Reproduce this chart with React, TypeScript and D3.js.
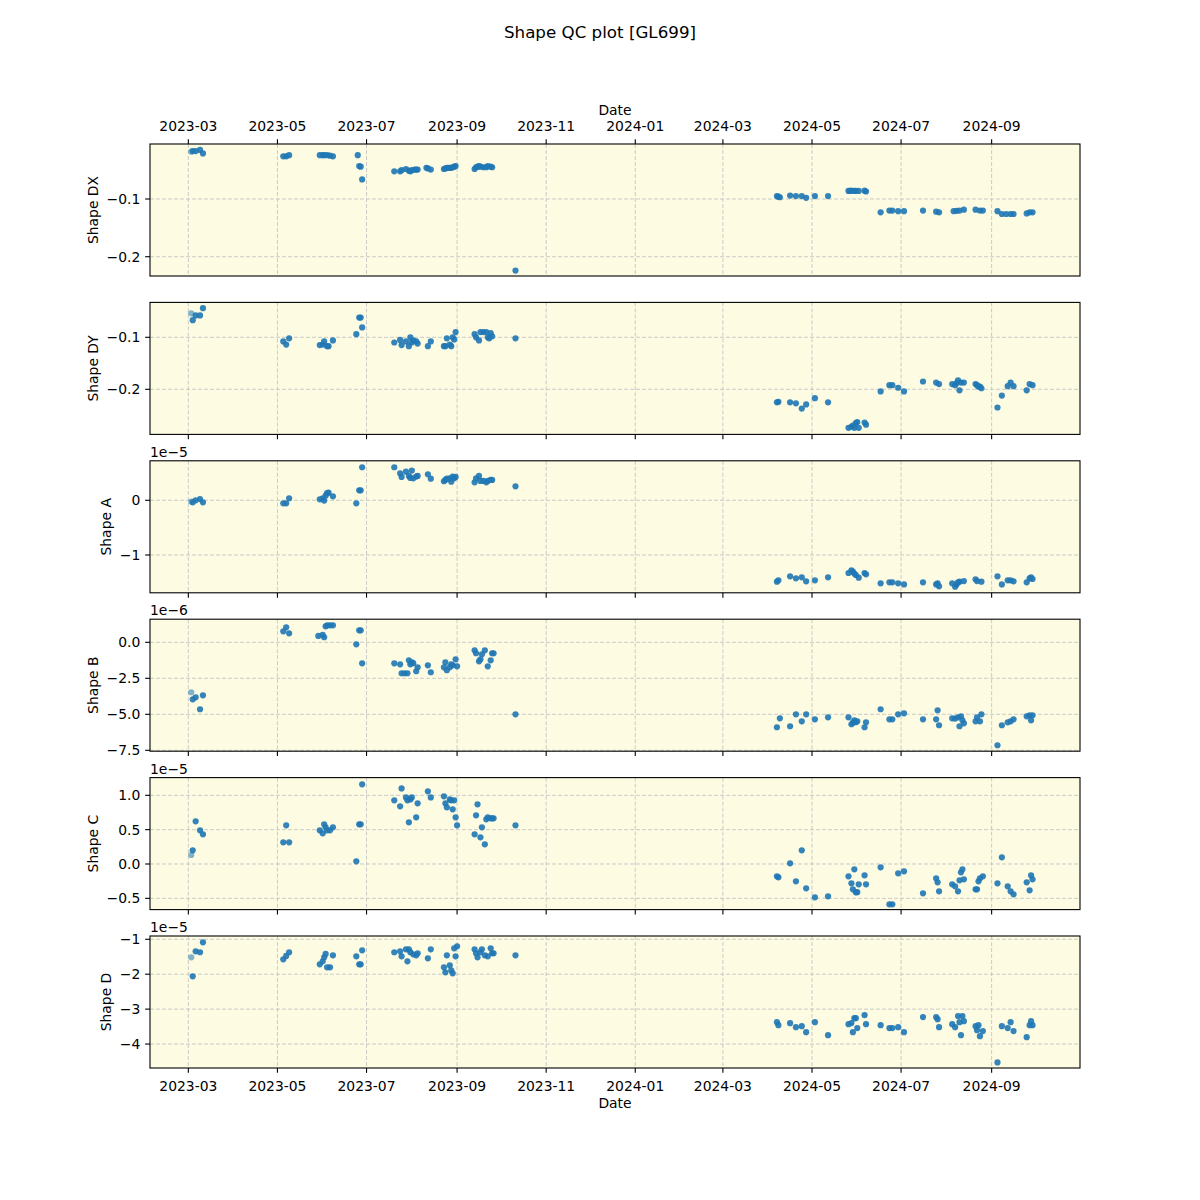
import React from 'react';
import * as d3 from 'd3';

type Pt = [string, number];

const chartTitle = 'Shape QC plot [GL699]';
const xTickDates = ['2023-03-01', '2023-05-01', '2023-07-01', '2023-09-01', '2023-11-01', '2024-01-01', '2024-03-01', '2024-05-01', '2024-07-01', '2024-09-01'];

const shapeDX: Pt[] = [
  ['2023-03-03', -0.018], ['2023-03-04', -0.017], ['2023-03-06', -0.017], ['2023-03-09', -0.015], ['2023-03-11', -0.021],
  ['2023-05-05', -0.026], ['2023-05-07', -0.026], ['2023-05-09', -0.024],
  ['2023-05-30', -0.024], ['2023-06-01', -0.024], ['2023-06-02', -0.024], ['2023-06-04', -0.024], ['2023-06-06', -0.025], ['2023-06-08', -0.026],
  ['2023-06-25', -0.024], ['2023-06-26', -0.043], ['2023-06-27', -0.044], ['2023-06-28', -0.066],
  ['2023-07-20', -0.052], ['2023-07-24', -0.052], ['2023-07-25', -0.050], ['2023-07-28', -0.048], ['2023-07-30', -0.051], ['2023-07-31', -0.052], ['2023-08-01', -0.050], ['2023-08-03', -0.049], ['2023-08-04', -0.049], ['2023-08-05', -0.049],
  ['2023-08-11', -0.046], ['2023-08-12', -0.047], ['2023-08-14', -0.049],
  ['2023-08-23', -0.048], ['2023-08-24', -0.047], ['2023-08-25', -0.046], ['2023-08-26', -0.046], ['2023-08-27', -0.046], ['2023-08-28', -0.046], ['2023-08-29', -0.045], ['2023-08-30', -0.044], ['2023-08-31', -0.043],
  ['2023-09-13', -0.048], ['2023-09-14', -0.045], ['2023-09-15', -0.044], ['2023-09-16', -0.043], ['2023-09-17', -0.044], ['2023-09-19', -0.045], ['2023-09-21', -0.045], ['2023-09-22', -0.043], ['2023-09-24', -0.044], ['2023-09-25', -0.045],
  ['2023-10-11', -0.224],
  ['2024-04-07', -0.095], ['2024-04-08', -0.096], ['2024-04-09', -0.097], ['2024-04-16', -0.094], ['2024-04-20', -0.095], ['2024-04-24', -0.095], ['2024-04-27', -0.098], ['2024-05-03', -0.095], ['2024-05-12', -0.095],
  ['2024-05-26', -0.086], ['2024-05-27', -0.086], ['2024-05-28', -0.0855], ['2024-05-30', -0.086], ['2024-05-31', -0.086], ['2024-06-02', -0.086], ['2024-06-06', -0.0855], ['2024-06-07', -0.087],
  ['2024-06-17', -0.123], ['2024-06-23', -0.120], ['2024-06-25', -0.120], ['2024-06-29', -0.121], ['2024-07-03', -0.121], ['2024-07-16', -0.120], ['2024-07-25', -0.122], ['2024-07-27', -0.123],
  ['2024-08-06', -0.121], ['2024-08-08', -0.1205], ['2024-08-10', -0.120], ['2024-08-13', -0.1185],
  ['2024-08-21', -0.1185], ['2024-08-24', -0.120], ['2024-08-26', -0.120],
  ['2024-09-05', -0.121], ['2024-09-08', -0.126], ['2024-09-11', -0.126], ['2024-09-14', -0.126], ['2024-09-16', -0.126],
  ['2024-09-25', -0.125], ['2024-09-27', -0.123], ['2024-09-29', -0.123],
];

const shapeDY: Pt[] = [
  ['2023-03-03', -0.054], ['2023-03-04', -0.067], ['2023-03-06', -0.058], ['2023-03-09', -0.058], ['2023-03-11', -0.044],
  ['2023-05-05', -0.108], ['2023-05-07', -0.114], ['2023-05-09', -0.102],
  ['2023-05-30', -0.115], ['2023-06-01', -0.114], ['2023-06-02', -0.108], ['2023-06-04', -0.117], ['2023-06-05', -0.117], ['2023-06-08', -0.106],
  ['2023-06-24', -0.094], ['2023-06-26', -0.062], ['2023-06-27', -0.062], ['2023-06-28', -0.081],
  ['2023-07-20', -0.110], ['2023-07-24', -0.105], ['2023-07-25', -0.115], ['2023-07-28', -0.108], ['2023-07-30', -0.117], ['2023-07-31', -0.100], ['2023-08-01', -0.110], ['2023-08-02', -0.106], ['2023-08-04', -0.108], ['2023-08-05', -0.112],
  ['2023-08-12', -0.117], ['2023-08-14', -0.108],
  ['2023-08-23', -0.117], ['2023-08-24', -0.117], ['2023-08-25', -0.102], ['2023-08-27', -0.114], ['2023-08-28', -0.117], ['2023-08-29', -0.100], ['2023-08-30', -0.104], ['2023-08-31', -0.090],
  ['2023-09-13', -0.094], ['2023-09-14', -0.100], ['2023-09-16', -0.106], ['2023-09-17', -0.090], ['2023-09-19', -0.090], ['2023-09-21', -0.090], ['2023-09-22', -0.100], ['2023-09-23', -0.102], ['2023-09-24', -0.092], ['2023-09-25', -0.098],
  ['2023-10-11', -0.102],
  ['2024-04-07', -0.225], ['2024-04-08', -0.224], ['2024-04-16', -0.225], ['2024-04-20', -0.227], ['2024-04-24', -0.237], ['2024-04-27', -0.229], ['2024-05-03', -0.217], ['2024-05-12', -0.225],
  ['2024-05-26', -0.274], ['2024-05-28', -0.272], ['2024-05-29', -0.270], ['2024-05-30', -0.274], ['2024-05-31', -0.265], ['2024-06-01', -0.263], ['2024-06-02', -0.274], ['2024-06-06', -0.264], ['2024-06-07', -0.268],
  ['2024-06-17', -0.204], ['2024-06-23', -0.192], ['2024-06-25', -0.192], ['2024-06-29', -0.197], ['2024-07-03', -0.204], ['2024-07-16', -0.185], ['2024-07-25', -0.187], ['2024-07-27', -0.190],
  ['2024-08-05', -0.190], ['2024-08-07', -0.192], ['2024-08-08', -0.188], ['2024-08-09', -0.183], ['2024-08-10', -0.202], ['2024-08-11', -0.187], ['2024-08-13', -0.187],
  ['2024-08-21', -0.190], ['2024-08-22', -0.192], ['2024-08-23', -0.195], ['2024-08-24', -0.195], ['2024-08-25', -0.198],
  ['2024-09-05', -0.235], ['2024-09-08', -0.212], ['2024-09-12', -0.194], ['2024-09-14', -0.187], ['2024-09-16', -0.194],
  ['2024-09-25', -0.202], ['2024-09-27', -0.190], ['2024-09-29', -0.192],
];

const shapeA: Pt[] = [
  ['2023-03-03', -0.024e-5], ['2023-03-04', -0.037e-5], ['2023-03-06', 0], ['2023-03-09', 0.024e-5], ['2023-03-11', -0.037e-5],
  ['2023-05-05', -0.055e-5], ['2023-05-07', -0.055e-5], ['2023-05-09', 0.037e-5],
  ['2023-05-30', 0.018e-5], ['2023-06-01', 0.037e-5], ['2023-06-02', -0.006e-5], ['2023-06-03', 0.085e-5], ['2023-06-04', 0.13e-5], ['2023-06-05', 0.14e-5], ['2023-06-08', 0.073e-5],
  ['2023-06-24', -0.055e-5], ['2023-06-26', 0.183e-5], ['2023-06-27', 0.183e-5], ['2023-06-28', 0.604e-5],
  ['2023-07-20', 0.604e-5], ['2023-07-24', 0.494e-5], ['2023-07-25', 0.427e-5], ['2023-07-28', 0.524e-5], ['2023-07-30', 0.445e-5], ['2023-07-31', 0.409e-5], ['2023-08-01', 0.543e-5], ['2023-08-02', 0.402e-5], ['2023-08-04', 0.433e-5], ['2023-08-05', 0.445e-5],
  ['2023-08-12', 0.476e-5], ['2023-08-14', 0.396e-5],
  ['2023-08-23', 0.348e-5], ['2023-08-24', 0.372e-5], ['2023-08-25', 0.396e-5], ['2023-08-27', 0.402e-5], ['2023-08-28', 0.341e-5], ['2023-08-29', 0.433e-5], ['2023-08-30', 0.402e-5], ['2023-08-31', 0.427e-5],
  ['2023-09-13', 0.329e-5], ['2023-09-14', 0.402e-5], ['2023-09-16', 0.445e-5], ['2023-09-17', 0.354e-5], ['2023-09-19', 0.354e-5], ['2023-09-21', 0.329e-5], ['2023-09-22', 0.354e-5], ['2023-09-24', 0.372e-5], ['2023-09-25', 0.372e-5],
  ['2023-10-11', 0.256e-5],
  ['2024-04-07', -1.488e-5], ['2024-04-08', -1.463e-5], ['2024-04-16', -1.39e-5], ['2024-04-20', -1.427e-5], ['2024-04-24', -1.409e-5], ['2024-04-27', -1.482e-5], ['2024-05-03', -1.463e-5], ['2024-05-12', -1.409e-5],
  ['2024-05-26', -1.329e-5], ['2024-05-28', -1.28e-5], ['2024-05-29', -1.305e-5], ['2024-05-30', -1.34e-5], ['2024-05-31', -1.366e-5], ['2024-06-02', -1.415e-5], ['2024-06-06', -1.329e-5], ['2024-06-07', -1.354e-5],
  ['2024-06-17', -1.518e-5], ['2024-06-23', -1.5e-5], ['2024-06-25', -1.5e-5], ['2024-06-29', -1.518e-5], ['2024-07-03', -1.537e-5],
  ['2024-07-16', -1.5e-5], ['2024-07-25', -1.537e-5], ['2024-07-26', -1.52e-5], ['2024-07-27', -1.573e-5],
  ['2024-08-05', -1.518e-5], ['2024-08-07', -1.58e-5], ['2024-08-08', -1.54e-5], ['2024-08-09', -1.5e-5], ['2024-08-10', -1.488e-5], ['2024-08-13', -1.476e-5],
  ['2024-08-21', -1.445e-5], ['2024-08-22', -1.476e-5], ['2024-08-25', -1.488e-5],
  ['2024-09-05', -1.39e-5], ['2024-09-08', -1.537e-5], ['2024-09-12', -1.463e-5], ['2024-09-14', -1.463e-5], ['2024-09-16', -1.482e-5],
  ['2024-09-25', -1.5e-5], ['2024-09-27', -1.427e-5], ['2024-09-28', -1.409e-5], ['2024-09-29', -1.439e-5],
];

const shapeB: Pt[] = [
  ['2023-03-03', -3.47e-6], ['2023-03-04', -3.96e-6], ['2023-03-06', -3.82e-6], ['2023-03-09', -4.65e-6], ['2023-03-11', -3.68e-6],
  ['2023-05-05', 0.76e-6], ['2023-05-07', 1.04e-6], ['2023-05-09', 0.625e-6],
  ['2023-05-29', 0.44e-6], ['2023-06-01', 0.51e-6], ['2023-06-02', 0.35e-6], ['2023-06-03', 1.11e-6], ['2023-06-04', 1.18e-6], ['2023-06-06', 1.18e-6], ['2023-06-08', 1.18e-6],
  ['2023-06-24', -0.14e-6], ['2023-06-26', 0.83e-6], ['2023-06-27', 0.83e-6], ['2023-06-28', -1.46e-6],
  ['2023-07-20', -1.46e-6], ['2023-07-24', -1.53e-6], ['2023-07-25', -2.15e-6], ['2023-07-27', -2.15e-6], ['2023-07-29', -2.15e-6], ['2023-07-30', -1.25e-6], ['2023-07-31', -1.53e-6], ['2023-08-01', -1.4e-6], ['2023-08-02', -1.45e-6], ['2023-08-04', -2.01e-6], ['2023-08-05', -1.74e-6],
  ['2023-08-12', -1.6e-6], ['2023-08-14', -2.08e-6],
  ['2023-08-23', -1.74e-6], ['2023-08-24', -1.39e-6], ['2023-08-25', -1.94e-6], ['2023-08-27', -1.74e-6], ['2023-08-28', -1.53e-6], ['2023-08-29', -1.6e-6], ['2023-08-31', -1.18e-6], ['2023-09-01', -1.67e-6],
  ['2023-09-13', -0.56e-6], ['2023-09-14', -0.76e-6], ['2023-09-16', -1.32e-6], ['2023-09-17', -1.18e-6], ['2023-09-18', -0.83e-6], ['2023-09-20', -0.56e-6], ['2023-09-22', -1.67e-6], ['2023-09-24', -1.25e-6], ['2023-09-25', -0.76e-6], ['2023-09-26', -0.76e-6],
  ['2023-10-11', -5.0e-6],
  ['2024-04-07', -5.9e-6], ['2024-04-09', -5.28e-6], ['2024-04-16', -5.83e-6], ['2024-04-20', -5.0e-6], ['2024-04-24', -5.49e-6], ['2024-04-27', -5.0e-6], ['2024-05-03', -5.35e-6], ['2024-05-12', -5.21e-6],
  ['2024-05-26', -5.21e-6], ['2024-05-28', -5.69e-6], ['2024-05-29', -5.58e-6], ['2024-05-30', -5.42e-6], ['2024-05-31', -5.55e-6], ['2024-06-01', -5.49e-6], ['2024-06-06', -5.9e-6], ['2024-06-07', -5.56e-6],
  ['2024-06-17', -4.65e-6], ['2024-06-23', -5.35e-6], ['2024-06-25', -5.35e-6], ['2024-06-29', -5.0e-6], ['2024-07-03', -4.93e-6],
  ['2024-07-16', -5.35e-6], ['2024-07-25', -5.35e-6], ['2024-07-26', -4.72e-6], ['2024-07-27', -5.76e-6],
  ['2024-08-05', -5.28e-6], ['2024-08-07', -5.3e-6], ['2024-08-09', -5.21e-6], ['2024-08-10', -5.83e-6], ['2024-08-11', -5.14e-6], ['2024-08-12', -5.42e-6], ['2024-08-13', -5.63e-6],
  ['2024-08-21', -5.49e-6], ['2024-08-22', -5.21e-6], ['2024-08-24', -5.49e-6], ['2024-08-25', -5.0e-6],
  ['2024-09-05', -7.15e-6], ['2024-09-08', -5.76e-6], ['2024-09-12', -5.56e-6], ['2024-09-14', -5.49e-6], ['2024-09-16', -5.35e-6],
  ['2024-09-25', -5.14e-6], ['2024-09-27', -5.07e-6], ['2024-09-28', -5.42e-6], ['2024-09-29', -5.07e-6],
];

const shapeC: Pt[] = [
  ['2023-03-03', 0.131e-5], ['2023-03-04', 0.199e-5], ['2023-03-06', 0.621e-5], ['2023-03-09', 0.49e-5], ['2023-03-11', 0.432e-5],
  ['2023-05-05', 0.316e-5], ['2023-05-07', 0.563e-5], ['2023-05-09', 0.316e-5],
  ['2023-05-30', 0.49e-5], ['2023-06-01', 0.447e-5], ['2023-06-02', 0.578e-5], ['2023-06-03', 0.534e-5], ['2023-06-04', 0.49e-5], ['2023-06-06', 0.49e-5], ['2023-06-08', 0.534e-5],
  ['2023-06-24', 0.039e-5], ['2023-06-26', 0.578e-5], ['2023-06-27', 0.578e-5], ['2023-06-28', 1.16e-5],
  ['2023-07-20', 0.927e-5], ['2023-07-24', 0.84e-5], ['2023-07-25', 1.10e-5], ['2023-07-28', 0.97e-5], ['2023-07-29', 0.927e-5], ['2023-07-30', 0.607e-5], ['2023-07-31', 0.94e-5], ['2023-08-01', 0.97e-5], ['2023-08-04', 0.68e-5], ['2023-08-05', 0.883e-5],
  ['2023-08-12', 1.058e-5], ['2023-08-14', 0.97e-5],
  ['2023-08-23', 0.985e-5], ['2023-08-24', 0.883e-5], ['2023-08-25', 0.825e-5], ['2023-08-27', 0.94e-5], ['2023-08-28', 0.927e-5], ['2023-08-29', 0.796e-5], ['2023-08-30', 0.927e-5], ['2023-08-31', 0.68e-5], ['2023-09-01', 0.563e-5],
  ['2023-09-13', 0.432e-5], ['2023-09-14', 0.709e-5], ['2023-09-15', 0.869e-5], ['2023-09-17', 0.388e-5], ['2023-09-18', 0.534e-5], ['2023-09-20', 0.286e-5], ['2023-09-21', 0.65e-5], ['2023-09-22', 0.68e-5], ['2023-09-24', 0.665e-5], ['2023-09-25', 0.665e-5], ['2023-09-26', 0.665e-5],
  ['2023-10-11', 0.563e-5],
  ['2024-04-07', -0.18e-5], ['2024-04-08', -0.194e-5], ['2024-04-16', 0.01e-5], ['2024-04-20', -0.252e-5], ['2024-04-24', 0.199e-5], ['2024-04-27', -0.354e-5], ['2024-05-03', -0.485e-5], ['2024-05-12', -0.471e-5],
  ['2024-05-26', -0.18e-5], ['2024-05-28', -0.282e-5], ['2024-05-29', -0.369e-5], ['2024-05-30', -0.078e-5], ['2024-05-31', -0.413e-5], ['2024-06-01', -0.41e-5], ['2024-06-02', -0.296e-5], ['2024-06-06', -0.165e-5], ['2024-06-07', -0.296e-5],
  ['2024-06-17', -0.049e-5], ['2024-06-23', -0.587e-5], ['2024-06-25', -0.587e-5], ['2024-06-29', -0.136e-5], ['2024-07-03', -0.107e-5],
  ['2024-07-16', -0.427e-5], ['2024-07-25', -0.209e-5], ['2024-07-26', -0.267e-5], ['2024-07-27', -0.398e-5],
  ['2024-08-05', -0.296e-5], ['2024-08-07', -0.325e-5], ['2024-08-09', -0.398e-5], ['2024-08-10', -0.238e-5], ['2024-08-11', -0.121e-5], ['2024-08-12', -0.078e-5], ['2024-08-13', -0.223e-5],
  ['2024-08-21', -0.369e-5], ['2024-08-22', -0.369e-5], ['2024-08-23', -0.252e-5], ['2024-08-24', -0.209e-5], ['2024-08-26', -0.18e-5],
  ['2024-09-05', -0.282e-5], ['2024-09-08', 0.097e-5], ['2024-09-12', -0.325e-5], ['2024-09-14', -0.398e-5], ['2024-09-16', -0.442e-5],
  ['2024-09-25', -0.267e-5], ['2024-09-27', -0.383e-5], ['2024-09-28', -0.165e-5], ['2024-09-29', -0.223e-5],
];

const shapeD: Pt[] = [
  ['2023-03-03', -1.516e-5], ['2023-03-04', -2.06e-5], ['2023-03-06', -1.344e-5], ['2023-03-09', -1.372e-5], ['2023-03-11', -1.086e-5],
  ['2023-05-05', -1.573e-5], ['2023-05-07', -1.478e-5], ['2023-05-09', -1.372e-5],
  ['2023-05-30', -1.716e-5], ['2023-06-01', -1.63e-5], ['2023-06-02', -1.516e-5], ['2023-06-03', -1.42e-5], ['2023-06-04', -1.802e-5], ['2023-06-06', -1.802e-5], ['2023-06-08', -1.458e-5],
  ['2023-06-24', -1.487e-5], ['2023-06-26', -1.716e-5], ['2023-06-27', -1.716e-5], ['2023-06-28', -1.315e-5],
  ['2023-07-20', -1.372e-5], ['2023-07-24', -1.344e-5], ['2023-07-25', -1.487e-5], ['2023-07-28', -1.287e-5], ['2023-07-29', -1.63e-5], ['2023-07-30', -1.287e-5], ['2023-07-31', -1.37e-5], ['2023-08-02', -1.43e-5], ['2023-08-04', -1.458e-5], ['2023-08-05', -1.4e-5],
  ['2023-08-12', -1.544e-5], ['2023-08-14', -1.287e-5],
  ['2023-08-23', -1.802e-5], ['2023-08-24', -1.946e-5], ['2023-08-25', -1.458e-5], ['2023-08-27', -1.745e-5], ['2023-08-28', -1.888e-5], ['2023-08-29', -1.974e-5], ['2023-08-30', -1.258e-5], ['2023-08-31', -1.487e-5], ['2023-09-01', -1.2e-5],
  ['2023-09-13', -1.287e-5], ['2023-09-14', -1.4e-5], ['2023-09-15', -1.516e-5], ['2023-09-17', -1.37e-5], ['2023-09-18', -1.287e-5], ['2023-09-20', -1.458e-5], ['2023-09-22', -1.487e-5], ['2023-09-24', -1.258e-5], ['2023-09-25', -1.4e-5], ['2023-09-26', -1.4e-5],
  ['2023-10-11', -1.458e-5],
  ['2024-04-07', -3.373e-5], ['2024-04-08', -3.459e-5], ['2024-04-16', -3.401e-5], ['2024-04-20', -3.516e-5], ['2024-04-24', -3.487e-5], ['2024-04-27', -3.659e-5], ['2024-05-03', -3.373e-5], ['2024-05-12', -3.745e-5],
  ['2024-05-26', -3.43e-5], ['2024-05-28', -3.40e-5], ['2024-05-29', -3.659e-5], ['2024-05-30', -3.258e-5], ['2024-05-31', -3.258e-5], ['2024-06-01', -3.544e-5], ['2024-06-06', -3.172e-5], ['2024-06-07', -3.43e-5],
  ['2024-06-17', -3.459e-5], ['2024-06-23', -3.544e-5], ['2024-06-25', -3.544e-5], ['2024-06-29', -3.516e-5], ['2024-07-03', -3.659e-5],
  ['2024-07-16', -3.229e-5], ['2024-07-25', -3.229e-5], ['2024-07-26', -3.287e-5], ['2024-07-27', -3.516e-5],
  ['2024-08-05', -3.43e-5], ['2024-08-07', -3.516e-5], ['2024-08-09', -3.2e-5], ['2024-08-10', -3.373e-5], ['2024-08-11', -3.745e-5], ['2024-08-12', -3.2e-5], ['2024-08-13', -3.344e-5],
  ['2024-08-21', -3.487e-5], ['2024-08-22', -3.602e-5], ['2024-08-23', -3.459e-5], ['2024-08-24', -3.774e-5], ['2024-08-26', -3.63e-5],
  ['2024-09-05', -4.525e-5], ['2024-09-08', -3.487e-5], ['2024-09-12', -3.544e-5], ['2024-09-14', -3.373e-5], ['2024-09-16', -3.63e-5],
  ['2024-09-25', -3.802e-5], ['2024-09-27', -3.459e-5], ['2024-09-28', -3.344e-5], ['2024-09-29', -3.459e-5],
];

const panelLabels = ['Shape DX', 'Shape DY', 'Shape A', 'Shape B', 'Shape C', 'Shape D'];
const panelDomains: [number, number][] = [
  [-0.2334, -0.0047],
  [-0.2867, -0.0329],
  [-1.691e-5, 0.722e-5],
  [-7.5625e-6, 1.604e-6],
  [-0.664e-5, 1.258e-5],
  [-4.686e-5, -0.906e-5],
];
const panelTicks: number[][] = [
  [-0.2, -0.1],
  [-0.2, -0.1],
  [-1e-5, 0],
  [-7.5e-6, -5e-6, -2.5e-6, 0],
  [-0.5e-5, 0, 0.5e-5, 1e-5],
  [-4e-5, -3e-5, -2e-5, -1e-5],
];
const panelScaleExp = [0, 0, -5, -6, -5, -5];
const panelDecimals = [1, 1, 0, 1, 1, 0];

const FONT = 'DejaVu Sans, sans-serif';
const MINUS = '\u2212';

function fmt(v: number, exp: number, dec: number) {
  const s = (v / Math.pow(10, exp)).toFixed(dec);
  const n = parseFloat(s) === 0 ? (0).toFixed(dec) : s;
  return n.replace('-', MINUS);
}

function textWidth(s: string, size: number) {
  let w = 0;
  for (const ch of s) {
    if (ch === MINUS) w += 0.838;
    else if (ch === '.') w += 0.318;
    else w += 0.636;
  }
  return w * size;
}

export default function App() {
  const W = 1200, H = 1200;
  const left = 150, right = 1080, top = 144, ph = 132, gap = 26.4;
  const fs = 13.9;
  const tickLen = 4.86;
  const bg = '#fdfce3';
  const color = '#1f77b4';

  const parse = (s: string) => new Date(s + 'T00:00:00Z');
  const x = d3.scaleUtc()
    .domain([new Date(Date.UTC(2023, 1, 2, 18)), new Date(Date.UTC(2024, 9, 31, 12))])
    .range([left, right]);
  const xTicks = xTickDates.map(parse);
  const xFmt = d3.utcFormat('%Y-%m');

  const datasets = [shapeDX, shapeDY, shapeA, shapeB, shapeC, shapeD];

  return (
    <svg width={W} height={H} viewBox={`0 0 ${W} ${H}`} style={{ display: 'block', position: 'absolute', left: 0, top: 0, background: '#fff' }} fontFamily={FONT}>
      <rect x={0} y={0} width={W} height={H} fill="#fff" />
      <text x={600} y={38} textAnchor="middle" fontSize={16.7} fill="#000">{chartTitle}</text>
      {datasets.map((data, i) => {
        const y0 = top + i * (ph + gap);
        const y = d3.scaleLinear().domain(panelDomains[i]).range([y0 + ph, y0]);
        const ticks = panelTicks[i];
        const labels = ticks.map((t) => fmt(t, panelScaleExp[i], panelDecimals[i]));
        const maxW = Math.max(...labels.map((l) => textWidth(l, fs)));
        const labelX = left - tickLen - 4.86 - maxW - 5.6 - 3.3;
        return (
          <g key={i}>
            <rect x={left} y={y0} width={right - left} height={ph} fill={bg} />
            {xTicks.map((t, k) => (
              <line key={'gx' + k} x1={x(t)} x2={x(t)} y1={y0} y2={y0 + ph} stroke="#c4c4c4" strokeWidth={0.9} strokeDasharray="4,2" />
            ))}
            {ticks.map((t, k) => (
              <line key={'gy' + k} x1={left} x2={right} y1={y(t)} y2={y(t)} stroke="#c4c4c4" strokeWidth={0.9} strokeDasharray="4,2" />
            ))}
            {data.map((d, k) => (
              <circle key={k} cx={x(parse(d[0]))} cy={y(d[1])} r={3.1} fill={color} fillOpacity={k === 0 ? 0.55 : 0.9} />
            ))}
            <rect x={left} y={y0} width={right - left} height={ph} fill="none" stroke="#000" strokeWidth={1.1} />
            {ticks.map((t, k) => (
              <g key={'ty' + k}>
                <line x1={left - tickLen} x2={left} y1={y(t)} y2={y(t)} stroke="#000" strokeWidth={1.1} />
                <text x={left - tickLen - 4.86} y={y(t)} dy="0.36em" textAnchor="end" fontSize={fs} fill="#000">{labels[k]}</text>
              </g>
            ))}
            {panelScaleExp[i] !== 0 && (
              <text x={left} y={y0 - 4} fontSize={fs} fill="#000">{`1e${MINUS}${Math.abs(panelScaleExp[i])}`}</text>
            )}
            <text transform={`translate(${labelX},${y0 + ph / 2}) rotate(-90)`} textAnchor="middle" fontSize={fs} fill="#000">{panelLabels[i]}</text>
            {i === 0
              ? xTicks.map((t, k) => (
                  <g key={'tx' + k}>
                    <line x1={x(t)} x2={x(t)} y1={y0 - tickLen} y2={y0} stroke="#000" strokeWidth={1.1} />
                    <text x={x(t)} y={y0 - 13} textAnchor="middle" fontSize={fs} fill="#000">{xFmt(t)}</text>
                  </g>
                ))
              : xTicks.map((t, k) => (
                  <line key={'tx' + k} x1={x(t)} x2={x(t)} y1={y0 + ph} y2={y0 + ph + tickLen} stroke="#000" strokeWidth={1.1} />
                ))}
            {i === 0 && <text x={(left + right) / 2} y={115} textAnchor="middle" fontSize={fs} fill="#000">Date</text>}
            {i === datasets.length - 1 && (
              <g>
                {xTicks.map((t, k) => (
                  <text key={'bl' + k} x={x(t)} y={y0 + ph + 22.5} textAnchor="middle" fontSize={fs} fill="#000">{xFmt(t)}</text>
                ))}
                <text x={(left + right) / 2} y={y0 + ph + 40} textAnchor="middle" fontSize={fs} fill="#000">Date</text>
              </g>
            )}
          </g>
        );
      })}
    </svg>
  );
}
